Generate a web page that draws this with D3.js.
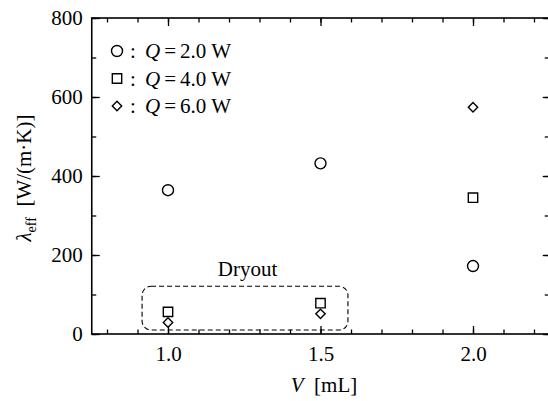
<!DOCTYPE html>
<html>
<head>
<meta charset="utf-8">
<script src="https://cdn.jsdelivr.net/npm/d3@7"></script>
</head>
<body style="margin:0">
<svg id="chart" width="548" height="401"></svg>
<script>
'use strict';

// volumes [mL] and effective thermal conductivity [W/(m.K)]
var volumes = [1.0, 1.5, 2.0];
var seriesQ = ["2.0", "4.0", "6.0"];
var lambdaQ2 = [364, 432, 172];
var lambdaQ4 = [56, 78, 345];
var lambdaQ6 = [29, 51, 574];
var xTicks = [1.0, 1.5, 2.0];
var yTicks = [0, 200, 400, 600, 800];
// dryout region, in data units
var dryoutV = [0.915, 1.59];
var dryoutL = [10, 121];

var FONT = '"Liberation Serif"';
var svg = d3.select('#chart');
var x = d3.scaleLinear().domain([0.75, 2.25]).range([91.75, 549.25]);
var y = d3.scaleLinear().domain([0, 800]).range([334, 18]);

// open diamond, a square turned 45 deg
var symbolRhomb = {
	draw: function (ctx, size) {
		var r = Math.sqrt(size / 2);
		ctx.moveTo(0, -r); ctx.lineTo(r, 0); ctx.lineTo(0, r); ctx.lineTo(-r, 0); ctx.closePath();
	}
};
var symbols = [d3.symbolCircle, d3.symbolSquare, symbolRhomb];
var sizes = [95, 88, 44];
var series = [lambdaQ2, lambdaQ4, lambdaQ6];

function serif(sel, px) {
	return sel.attr('font-family', null).style('font-family', FONT).style('font-size', px + 'px');
}

// axes, ticks inward
function minor(step, dom) { return d3.range(dom[0], dom[1] + 1e-9, step); }
var xMinor = minor(0.1, [0.8, 2.2]);
var yMinor = minor(100, [0, 800]);

function tickSet(g, axis) {
	g.call(axis);
	g.attr('font-family', null).attr('font-size', null);
	g.select('.domain').remove();
	g.selectAll('line').attr('stroke', '#000').attr('stroke-width', 1.3);
	serif(g.selectAll('text'), 21);
}

svg.append('g').attr('transform', 'translate(0,334)')
	.call(tickSet, d3.axisBottom(x).tickValues(xMinor).tickSize(-4.5).tickFormat(''));
svg.append('g').attr('transform', 'translate(0,334)')
	.call(tickSet, d3.axisBottom(x).tickValues(xTicks).tickSize(-8).tickPadding(12).tickFormat(d3.format('.1f')));
svg.append('g').attr('transform', 'translate(0,18)')
	.call(tickSet, d3.axisTop(x).tickValues(xMinor).tickSize(-4.5).tickFormat(''));
svg.append('g').attr('transform', 'translate(0,18)')
	.call(tickSet, d3.axisTop(x).tickValues(xTicks).tickSize(-8).tickFormat(''));
svg.append('g').attr('transform', 'translate(91.75,0)')
	.call(tickSet, d3.axisLeft(y).tickValues(yMinor).tickSize(-4.5).tickFormat(''));
svg.append('g').attr('transform', 'translate(91.75,0)')
	.call(tickSet, d3.axisLeft(y).tickValues(yTicks).tickSize(-8).tickPadding(9).tickFormat(d3.format('d')));
svg.append('g').attr('transform', 'translate(549.25,0)')
	.call(tickSet, d3.axisRight(y).tickValues(yMinor).tickSize(-4.5).tickFormat(''));
svg.append('g').attr('transform', 'translate(549.25,0)')
	.call(tickSet, d3.axisRight(y).tickValues(yTicks).tickSize(-6.5).tickFormat(''));

// frame
svg.append('rect')
	.attr('x', x(0.75)).attr('y', y(800))
	.attr('width', x(2.25) - x(0.75)).attr('height', y(0) - y(800))
	.attr('fill', 'none').attr('stroke', '#000').attr('stroke-width', 1.6);

// dryout box
svg.append('rect')
	.attr('x', x(dryoutV[0])).attr('y', y(dryoutL[1]))
	.attr('width', x(dryoutV[1]) - x(dryoutV[0])).attr('height', y(dryoutL[0]) - y(dryoutL[1]))
	.attr('rx', 9).attr('ry', 9)
	.attr('fill', 'none').attr('stroke', '#000').attr('stroke-width', 1.1)
	.attr('stroke-dasharray', '5,3');
svg.append('text')
	.attr('x', (x(dryoutV[0]) + x(dryoutV[1])) / 2 + 2.5).attr('y', y(dryoutL[1]) - 10)
	.attr('text-anchor', 'middle')
	.call(serif, 21).text('Dryout');

// markers
series.forEach(function (vals, i) {
	svg.append('g').selectAll('path')
		.data(vals)
		.join('path')
		.attr('transform', function (d, j) { return 'translate(' + x(volumes[j]) + ',' + y(d) + ')'; })
		.attr('d', d3.symbol().type(symbols[i]).size(sizes[i]))
		.attr('fill', '#fff').attr('stroke', '#000').attr('stroke-width', 1.4);
});

// legend
var leg = svg.append('g');
seriesQ.forEach(function (q, i) {
	var ly = 51 + i * 27.5;
	leg.append('path')
		.attr('transform', 'translate(117,' + ly + ')')
		.attr('d', d3.symbol().type(symbols[i]).size(sizes[i]))
		.attr('fill', '#fff').attr('stroke', '#000').attr('stroke-width', 1.4);
	var t = leg.append('text').attr('y', ly + 7).call(serif, 21);
	t.append('tspan').attr('x', 130).text(':');
	t.append('tspan').attr('x', 145).style('font-style', 'italic').text('Q');
	t.append('tspan').attr('dx', 4).text('=');
	t.append('tspan').attr('dx', 4).text(q);
	t.append('tspan').attr('dx', 5).text('W');
});

// axis labels
var xl = svg.append('text').attr('x', 324).attr('y', 392).attr('text-anchor', 'middle').call(serif, 21);
xl.append('tspan').style('font-style', 'italic').text('V');
xl.append('tspan').text('\u00a0 [mL]');

var yl = svg.append('text')
	.attr('transform', 'translate(31,178) rotate(-90)')
	.attr('text-anchor', 'middle').call(serif, 21);
yl.append('tspan').style('font-style', 'italic').text('\u03bb');
yl.append('tspan').style('font-size', '14px').attr('dy', 5).text('eff');
yl.append('tspan').attr('dy', -5).text('\u00a0\u00a0[W/(m\u00b7K)]');
</script>
</body>
</html>
